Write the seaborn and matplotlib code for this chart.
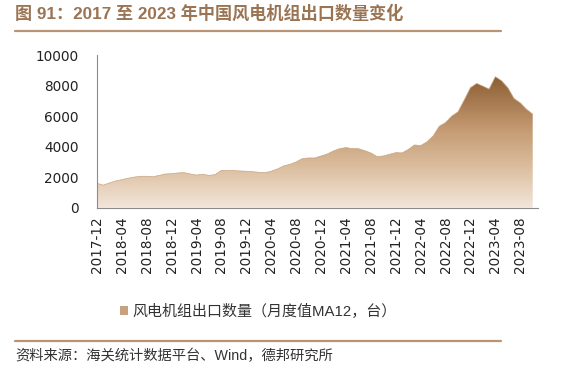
import numpy as np
import pandas as pd
import matplotlib
matplotlib.use("Agg")
import matplotlib.pyplot as plt
from matplotlib.colors import LinearSegmentedColormap
from matplotlib.patches import Patch
import seaborn as sns

# Monthly wind turbine exports (MA12, units), 2017-12 .. 2023-10
months = pd.period_range("2017-12", "2023-10", freq="M").strftime("%Y-%m").tolist()
exports = [1600, 1480, 1620, 1750, 1840, 1930, 2010, 2060, 2060, 2030, 2120, 2210,
           2230, 2280, 2300, 2210, 2140, 2190, 2120, 2170, 2450, 2450, 2430, 2410,
           2390, 2360, 2320, 2300, 2390, 2540, 2740, 2840, 3000, 3220, 3260, 3260,
           3390, 3520, 3720, 3870, 3940, 3870, 3870, 3740, 3590, 3350, 3390, 3500,
           3610, 3590, 3810, 4110, 4070, 4310, 4700, 5340, 5580, 6000, 6280, 7050,
           7860, 8140, 7960, 7770, 8580, 8310, 7860, 7150, 6870, 6450, 6130]

title = "图 91：2017 至 2023 年中国风电机组出口数量变化"
legend_label = "风电机组出口数量（月度值MA12，台）"
source = "资料来源：海关统计数据平台、Wind，德邦研究所"

df = pd.DataFrame({"idx": np.arange(len(months)), "month": months, "value": exports})

sns.set_theme(style="white")
plt.rcParams["font.family"] = ["Liberation Sans", "Noto Sans CJK SC", "DejaVu Sans"]

brown = "#9a7453"
line_col = "#b89474"

fig = plt.figure(figsize=(5.86, 3.73), dpi=100)
ax = fig.add_axes([0.1655, 0.443, 0.7526, 0.4095])

# thin edge line, then gradient fill clipped to the area under it
sns.lineplot(data=df, x="idx", y="value", ax=ax, color="#c9a482", linewidth=0.5)
poly = ax.fill_between(df["idx"], df["value"], color="none", linewidth=0)

cmap = LinearSegmentedColormap.from_list(
    "brown_grad", [(0.0, "#f2e6da"), (0.3, "#dcbfa0"), (0.6, "#c49a72"), (1.0, "#8b5d32")])
grad = np.linspace(0, 1, 256).reshape(-1, 1)
img = ax.imshow(grad, cmap=cmap, origin="lower", aspect="auto",
                extent=[0, len(months) - 1, 0, max(exports)], zorder=1)
img.set_clip_path(poly.get_paths()[0], transform=ax.transData)

ax.set_xlim(0, len(months) - 1 + 0.85)
ax.set_ylim(0, 10000)
ax.set_yticks(range(0, 10001, 2000))
tick_pos = list(range(0, len(months), 4))
ax.set_xticks(tick_pos)
ax.set_xticklabels([months[i] for i in tick_pos], rotation=90)
for lab in ax.get_xticklabels() + ax.get_yticklabels():
    lab.set_family("DejaVu Sans")
    lab.set_fontsize(9.8)
    lab.set_color("#222222")
ax.tick_params(axis="both", direction="in", length=4, width=0.8, color="#333333")
ax.tick_params(axis="y", pad=13)
ax.tick_params(axis="x", pad=6)
ax.set_xlabel("")
ax.set_ylabel("")
for s in ["top", "right"]:
    ax.spines[s].set_visible(False)
for s in ["left", "bottom"]:
    ax.spines[s].set_color("#8c8c8c")
    ax.spines[s].set_linewidth(0.8)

# legend
handle = Patch(facecolor="#c8a27f", edgecolor="none")
fig.legend([handle], [legend_label], loc="center", bbox_to_anchor=(0.441, 0.166),
           frameon=False, fontsize=10.8, handlelength=0.55, handleheight=0.55,
           handletextpad=0.3, labelcolor="#333333")

# title, rules and source
fig.text(0.026, 0.965, title, fontsize=12.3, fontweight="bold", color=brown,
         ha="left", va="center")
fig.add_artist(plt.Line2D([0.026, 0.855], [0.918, 0.918], color=line_col, linewidth=1.6))
fig.add_artist(plt.Line2D([0.026, 0.855], [0.086, 0.086], color=line_col, linewidth=1.6))
fig.text(0.026, 0.045, source, fontsize=10.3, color="#333333", ha="left", va="center")

fig.savefig("out.png", dpi=100)
